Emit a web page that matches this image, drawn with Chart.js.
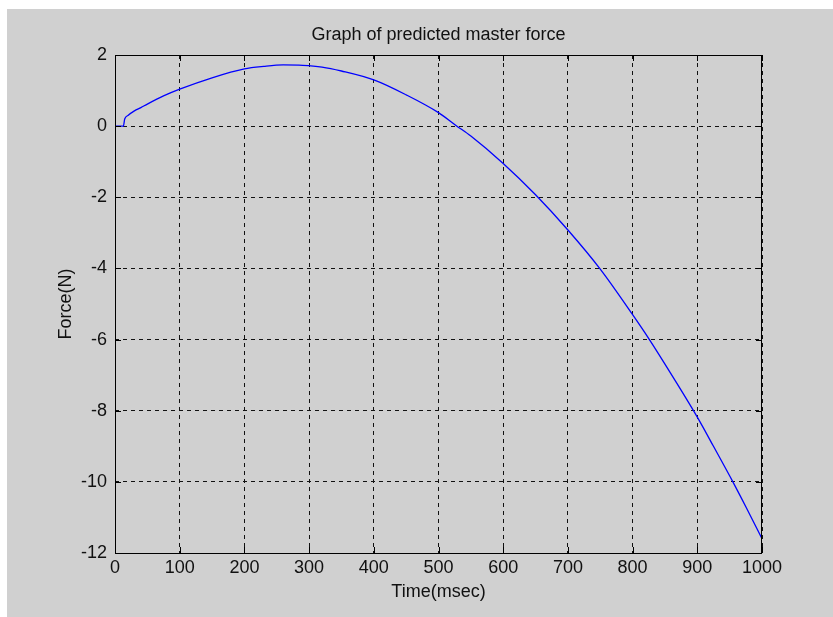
<!DOCTYPE html>
<html>
<head>
<meta charset="utf-8">
<script src="https://cdn.jsdelivr.net/npm/chart.js@4.4.1/dist/chart.umd.min.js"></script>
<style>
  html, body { margin: 0; padding: 0; background: #ffffff; }
  #wrap { position: absolute; left: 7px; top: 9px; width: 826px; height: 608px; background: #d0d0d0; }
  canvas { display: block; }
</style>
</head>
<body>
<div id="wrap"><canvas class="chart" width="826" height="608"></canvas></div>
<script>
// time in msec
var timeMs = [0, 10, 13, 15, 20, 30, 40, 50, 75, 100, 150, 200, 230, 260, 290, 320, 350, 400, 450, 500, 527, 550, 600, 650, 700, 750, 800, 826, 850, 900, 925, 955, 975, 1000];
// predicted master force in N
var forceN = [0, 0, 0, 0.2, 0.3, 0.43, 0.52, 0.62, 0.85, 1.04, 1.36, 1.61, 1.68, 1.72, 1.71, 1.66, 1.55, 1.30, 0.88, 0.38, 0.02, -0.28, -1.05, -1.93, -2.92, -4.02, -5.3, -6.0, -6.69, -8.18, -9.0, -10.0, -10.7, -11.6];
var xTicks = [0, 100, 200, 300, 400, 500, 600, 700, 800, 900, 1000];
var yTicks = [-12, -10, -8, -6, -4, -2, 0, 2];

var titleText = "Graph of predicted master force";
var xTitle = "Time(msec)";
var yTitle = "Force(N)";

window.onload = function () {
  var fontFam = "'Liberation Sans', Arial, sans-serif";

  var points = timeMs.map(function (t, i) { return { x: t, y: forceN[i] }; });

  // box, inner ticks and texts like matlab
  var matlabStyle = {
    id: "matlabStyle",
    afterDraw: function (chart) {
      var c = chart.ctx, a = chart.chartArea;
      var xs = chart.scales.x, ys = chart.scales.y;
      c.save();
      c.strokeStyle = "#000";
      c.lineWidth = 1;
      c.setLineDash([]);
      c.strokeRect(Math.round(a.left) + 0.5, Math.round(a.top) + 0.5, Math.round(a.right - a.left) - 1, Math.round(a.bottom - a.top));
      c.beginPath();
      xTicks.forEach(function (v) {
        var px = Math.round(xs.getPixelForValue(v)) + 0.5;
        c.moveTo(px, a.bottom); c.lineTo(px, a.bottom - 6);
        c.moveTo(px, a.top); c.lineTo(px, a.top + 6);
      });
      yTicks.forEach(function (v) {
        var py = Math.round(ys.getPixelForValue(v)) + 0.5;
        c.moveTo(a.left, py); c.lineTo(a.left + 6, py);
        c.moveTo(a.right, py); c.lineTo(a.right - 6, py);
      });
      c.stroke();

      c.fillStyle = "#111";
      c.font = "18px " + fontFam;
      c.textAlign = "center";
      c.textBaseline = "alphabetic";
      var cx = (a.left + a.right) / 2;
      c.fillText(titleText, cx, 31);
      c.fillText(xTitle, cx, 588);
      c.translate(64, (a.top + a.bottom) / 2);
      c.rotate(-Math.PI / 2);
      c.fillText(yTitle, 0, 0);
      c.restore();
    }
  };

  var datos = {
    type: "line",
    data: {
      datasets: [{
        data: points,
        borderColor: "#0000ff",
        borderWidth: 1.3,
        pointRadius: 0,
        fill: false,
        cubicInterpolationMode: "monotone"
      }]
    },
    options: {
      responsive: false,
      animation: false,
      layout: { padding: { left: 0, top: 46, right: 71, bottom: 0 } },
      plugins: {
        legend: { display: false },
        title: { display: false },
        tooltip: { enabled: false }
      },
      scales: {
        x: {
          type: "linear",
          min: 0,
          max: 1000,
          afterFit: function (s) { s.height = 64; },
          afterBuildTicks: function (s) { s.ticks = xTicks.map(function (v) { return { value: v }; }); },
          ticks: {
            autoSkip: false, maxRotation: 0, padding: 4, color: "#111",
            font: { family: fontFam, size: 18 },
            callback: function (v) { return String(v); }
          },
          grid: { color: "#111", lineWidth: 1, drawTicks: false },
          border: { display: false, dash: [4, 4] }
        },
        y: {
          type: "linear",
          min: -12,
          max: 2,
          afterFit: function (s) { s.width = 108; },
          afterBuildTicks: function (s) { s.ticks = yTicks.map(function (v) { return { value: v }; }); },
          ticks: {
            autoSkip: false, padding: 8, color: "#111",
            font: { family: fontFam, size: 18 },
            callback: function (v) { return String(v); }
          },
          grid: { color: "#111", lineWidth: 1, drawTicks: false },
          border: { display: false, dash: [4, 4] }
        }
      }
    },
    plugins: [matlabStyle]
  };

  var ctx = document.querySelector(".chart").getContext("2d");
  window.forceChart = new Chart(ctx, datos);
};
</script>
</body>
</html>
